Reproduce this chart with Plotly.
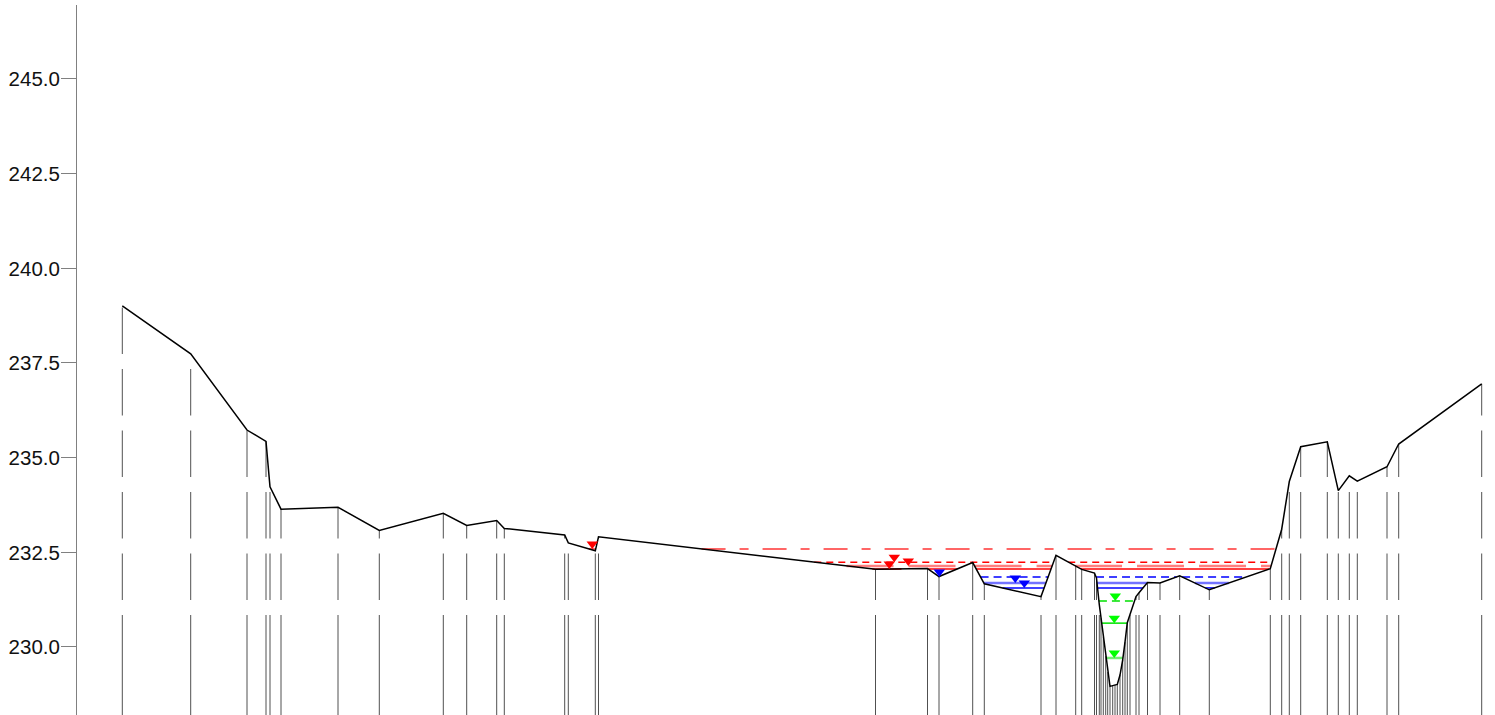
import plotly.graph_objects as go

# ---------------- data ----------------
stations = [0, 68.4, 124.7, 143.7, 147.7, 158.7, 215.7, 257.0, 321.0, 344.4,
            374.4, 382.0, 442.4, 446.0, 473.0, 476.2, 753.2, 805.2, 816.7, 850.4,
            862.0, 918.7, 933.7, 953.4, 959.4, 972.2, 974.2, 977.0, 978.7, 981.0,
            983.4, 985.4, 987.7, 990.4, 992.7, 995.0, 997.7, 1000.4, 1002.7, 1005.0,
            1007.7, 1013.7, 1016.7, 1025.2, 1037.7, 1057.4, 1087.0, 1148.0, 1159.4, 1167.0,
            1178.4, 1205.0, 1216.0, 1227.0, 1235.0, 1264.7, 1276.4, 1359.4]
elevations = [239.01, 237.74, 235.73, 235.43, 234.23, 233.64, 233.69, 233.08, 233.53, 233.21,
              233.34, 233.13, 232.96, 232.75, 232.54, 232.91, 232.05, 232.07, 231.86, 232.23,
              231.67, 231.33, 232.42, 232.13, 232.05, 231.95, 231.82, 231.12, 230.76, 230.27,
              229.76, 229.34, 228.96, 228.98, 229.00, 229.01, 229.26, 229.66, 230.13, 230.64,
              230.86, 231.33, 231.43, 231.70, 231.69, 231.88, 231.51, 232.07, 233.11, 234.37,
              235.29, 235.42, 234.13, 234.52, 234.38, 234.76, 235.36, 236.95]

# water surface profiles
ws_levels = [232.59, 232.24, 232.14, 232.06, 231.85, 231.69, 231.56, 231.215, 230.63, 229.71]
ws_marker_station = [470, 772, 786, 767, 817, 893, 902, 993, 992, 992]
ws_colors = ["rgba(255,0,0,0.6)", "#ff0000", "rgba(255,0,0,0.5)", "#ff0000",
             "#0000ff", "rgba(0,0,255,0.55)", "#0000ff",
             "#00e000", "#00e000", "rgba(0,224,0,0.55)"]
ws_marker_colors = ["#ff0000"] * 4 + ["#0000ff"] * 3 + ["#00ff00"] * 3
ws_dash = ["24px,14px,9px,14px", "7px,5px", "47px,15px", "solid",
           "8px,5px", "solid", "solid",
           "8px,5px", "solid", "solid"]
ws_width = [2, 1.5, 2.5, 1.5, 1.5, 2.5, 1.5, 1.5, 1.5, 2.5]

y_ticks = [230.0, 232.5, 235.0, 237.5, 240.0, 242.5, 245.0]
tick_text = ["230.0", "232.5", "235.0", "237.5", "240.0", "242.5", "245.0"]

# ---------------- layout constants ----------------
W, H = 1495, 715
M_L, M_R, M_T, M_B = 77, 0, 5, 0
x_range = [-45.3, 1372.7]
y_range = [228.204, 246.954]
px_per_unit = (H - M_T - M_B) / (y_range[1] - y_range[0])


def wet_segments(level, xs, zs):
    segs = []
    start = None
    for i in range(len(xs) - 1):
        x0, z0, x1, z1 = xs[i], zs[i], xs[i + 1], zs[i + 1]
        if i == 0 and z0 < level:
            start = x0
        if (z0 >= level) and (z1 < level):
            start = x0 + (level - z0) / (z1 - z0) * (x1 - x0)
        elif (z0 < level) and (z1 >= level):
            xe = x0 + (level - z0) / (z1 - z0) * (x1 - x0)
            if start is not None:
                segs.append((start, xe))
            start = None
    if start is not None:
        segs.append((start, xs[-1]))
    return segs


fig = go.Figure()

# vertical station lines, drawn from the bottom upward so dashes align
vdash = "100px,15px" + ",46.5px,15px" * 12 + ",2000px"
for s, z in zip(stations, elevations):
    fig.add_trace(go.Scatter(x=[s, s], y=[y_range[0], z], mode="lines",
                             line=dict(color="#505050", width=1, dash=vdash),
                             hoverinfo="skip", showlegend=False))

# water surface lines
for lvl, col, dsh, wd in zip(ws_levels, ws_colors, ws_dash, ws_width):
    xs, ys = [], []
    for a, b in wet_segments(lvl, stations, elevations):
        xs += [a, b, None]
        ys += [lvl, lvl, None]
    fig.add_trace(go.Scatter(x=xs, y=ys, mode="lines",
                             line=dict(color=col, width=wd, dash=dsh),
                             hoverinfo="skip", showlegend=False))

# ground profile
fig.add_trace(go.Scatter(x=stations, y=elevations, mode="lines",
                         line=dict(color="#000000", width=1.5),
                         hoverinfo="skip", showlegend=False))

# water surface markers (apex of triangle touches the water surface)
msize = 10
for lvl, st, mc in zip(ws_levels, ws_marker_station, ws_marker_colors):
    fig.add_trace(go.Scatter(x=[st], y=[lvl + (msize / 2) / px_per_unit], mode="markers",
                             marker=dict(symbol="triangle-down", size=msize, color=mc,
                                         line=dict(width=0)),
                             hoverinfo="skip", showlegend=False))

fig.update_layout(
    width=W, height=H,
    margin=dict(l=M_L, r=M_R, t=M_T, b=M_B, pad=0),
    paper_bgcolor="white", plot_bgcolor="white",
    showlegend=False,
    xaxis=dict(range=x_range, visible=False, showgrid=False, zeroline=False),
    yaxis=dict(range=y_range, showgrid=False, zeroline=False,
               showline=True, linecolor="#808080", linewidth=1,
               ticks="outside", ticklen=15, tickcolor="#808080", tickwidth=1,
               tickvals=y_ticks, ticktext=tick_text,
               tickfont=dict(family="Arial, Liberation Sans", size=20.5, color="#111111"),
               ticklabelstandoff=-3),
)

fig.write_html("out.html")
